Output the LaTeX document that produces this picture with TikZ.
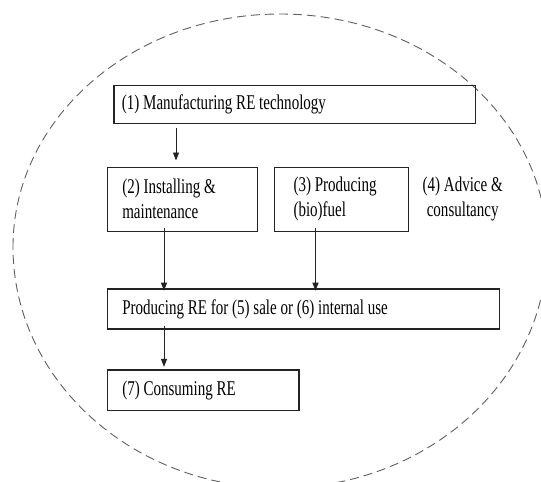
\documentclass[tikz,border=0pt]{standalone}
\usepackage{fontspec}
\setmainfont{Liberation Serif}[FakeStretch=0.715]
\usepackage{tikz}
\usetikzlibrary{arrows.meta, positioning, calc}
\definecolor{boxline}{RGB}{35, 35, 35}
\definecolor{dashgray}{RGB}{95, 95, 95}
\newcommand{\diagfont}{\fontsize{21}{25}\selectfont\spaceskip=3.8pt plus 1pt minus 0.5pt\relax}
\tikzset{
    box/.style = {rectangle, draw=boxline, line width=1.2pt, align=flush left, anchor=north west, inner xsep=15pt, inner ysep=0pt},
    textonly/.style = {align=flush center, inner sep=0pt},
    arrow/.style = {draw=boxline, line width=0.9pt, -{Triangle[length=8pt, width=6pt]}},
    ring/.style = {draw=dashgray, line width=0.9pt, dash pattern=on 9pt off 5pt}
}

\begin{document}
\begin{tikzpicture}[x=1pt, y=1pt, font=\diagfont]
\useasboundingbox (0,0) rectangle (541,-482);
% dashed boundary
\draw[ring] (13,-247) arc[start angle=180, end angle=0, x radius=267, y radius=233]
    arc[start angle=0, end angle=-180, x radius=267, y radius=241];

\node (manuf) [box, inner xsep=8pt, text width=345.7pt, minimum height=37.7pt] at (113.3,-85) {(1) Manufacturing RE technology};
\node (install) [box, text width=120pt, minimum height=63.6pt, below=43pt of manuf.south west, anchor=north west, xshift=-6.6pt] {(2) Installing \&\\maintenance};
\node (fuel) [box, inner xsep=19pt, text width=96.3pt, minimum height=63.6pt, right=16pt of install] {(3) Producing\\(bio)fuel};
\node (advice) [textonly, right=13pt of fuel] {(4) Advice \&\\consultancy};
\node (sale) [box, text width=362.3pt, minimum height=40pt, below=56.7pt of install.south west, anchor=north west] {Producing RE for (5) sale or (6) internal use};
\node (consume) [box, text width=161.6pt, minimum height=40.3pt, below=39.7pt of sale.south west, anchor=north west] {(7) Consuming RE};

\draw [arrow, shorten <=4pt, shorten >=6.4pt] ([xshift=69.3pt]install.north west |- manuf.south) -- ([xshift=69.3pt]install.north west);
\draw [arrow, shorten <=-4pt, shorten >=-2.3pt] ([xshift=57.3pt]install.south west) -- ([xshift=57.3pt]install.south west |- sale.north);
\draw [arrow, shorten <=-4pt, shorten >=-2.3pt] ([xshift=41.6pt]fuel.south west) -- ([xshift=41.6pt]fuel.south west |- sale.north);
\draw [arrow, shorten <=-4pt, shorten >=2.4pt] ([xshift=57.3pt]sale.south west) -- ([xshift=57.3pt]consume.north west);
\end{tikzpicture}
\end{document}
